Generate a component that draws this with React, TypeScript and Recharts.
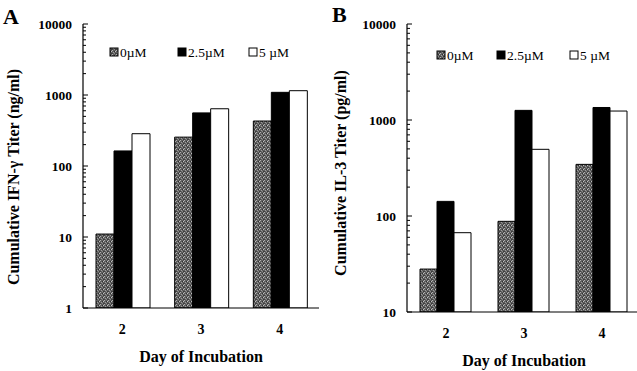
import { BarChart, Bar, XAxis, YAxis, Legend } from "recharts";

const days = ["2", "3", "4"];
const doses = ["0\u00b5M", "2.5\u00b5M", "5 \u00b5M"];

// panel A, IFN-gamma (ng/ml)
const ifn0 = [11, 255, 430];
const ifn25 = [163, 560, 1090];
const ifn5 = [285, 640, 1150];

// panel B, IL-3 (pg/ml)
const il0 = [28, 88, 345];
const il25 = [142, 1260, 1350];
const il5 = [67, 495, 1240];

const decadesA = [1, 10, 100, 1000, 10000];
const decadesB = [10, 100, 1000, 10000];

const SERIF = "'Liberation Serif', 'Times New Roman', serif";

function withMinors(decades: number[]) {
  const out: number[] = [];
  decades.forEach((d, i) => {
    out.push(d);
    if (i < decades.length - 1) for (let m = 2; m <= 9; m++) out.push(d * m);
  });
  return out;
}

function LogTick(props: any) {
  const { x, y, payload, gap, decades } = props;
  const v = payload.value;
  const major = decades.includes(v);
  const ax = x + gap;
  return (
    <g>
      <line x1={ax} x2={ax + (major ? 5 : 3)} y1={y} y2={y} stroke="#000" strokeWidth={1} />
      {major && (
        <text x={x} y={y} dy={4.5} textAnchor="end" fontFamily={SERIF} fontWeight="bold" fontSize={13.5} fill="#000">
          {v}
        </text>
      )}
    </g>
  );
}

function LegendBox({ xs, patId }: { xs: number[]; patId: string }) {
  const fills = [`url(#${patId})`, "#000", "#fff"];
  return (
    <svg width={330} height={20} style={{ display: "block" }}>
      {doses.map((d, i) => (
        <g key={d}>
          <rect x={xs[i]} y={6} width={8} height={8} fill={fills[i]} stroke="#000" strokeWidth={1} />
          <text x={xs[i] + 10} y={14.5} fontFamily={SERIF} fontSize={13.5} fill="#000">
            {d}
          </text>
        </g>
      ))}
    </svg>
  );
}

function Panel(props: {
  s0: number[];
  s25: number[];
  s5: number[];
  decades: number[];
  yLabel: string;
  patId: string;
  axisW: number;
  right: number;
  xAxisH: number;
  yLabelX: number;
  yLabelDy: number;
  xLabelY: number;
  legendXs: number[];
  legendTop: number;
}) {
  const data = days.map((d, i) => ({ day: d, c0: props.s0[i], c25: props.s25[i], c5: props.s5[i] }));
  const lo = props.decades[0];
  const hi = props.decades[props.decades.length - 1];
  return (
    <BarChart
      width={330}
      height={371}
      data={data}
      margin={{ top: 24, right: props.right, left: 0, bottom: 0 }}
      barCategoryGap={13}
      barGap={0}
    >
      <defs>
        <pattern id={props.patId} width={4} height={4} patternUnits="userSpaceOnUse">
          <rect width={4} height={4} fill="#5e5e5e" />
          <rect x={0} y={0} width={1} height={1} fill="#b0b0b0" />
          <rect x={2} y={1} width={1} height={1} fill="#2e2e2e" />
          <rect x={1} y={2} width={1} height={1} fill="#9c9c9c" />
          <rect x={3} y={3} width={1} height={1} fill="#3a3a3a" />
          <rect x={3} y={1} width={1} height={1} fill="#c0c0c0" />
          <rect x={0} y={3} width={1} height={1} fill="#444" />
          <rect x={2} y={3} width={1} height={1} fill="#8a8a8a" />
        </pattern>
      </defs>
      <XAxis
        dataKey="day"
        height={props.xAxisH}
        tickLine={false}
        tickSize={0}
        tickMargin={16}
        axisLine={{ stroke: "#000", strokeWidth: 1.2 }}
        tick={{ fontFamily: SERIF, fontWeight: "bold", fontSize: 14, fill: "#000" }}
        label={(p: any) => {
          const vb = p.viewBox;
          return (
            <text x={vb.x + vb.width / 2} y={vb.y + props.xLabelY} textAnchor="middle" fontFamily={SERIF} fontWeight="bold" fontSize={16} fill="#000">
              Day of Incubation
            </text>
          );
        }}
      />
      <XAxis xAxisId="top" dataKey="day" orientation="top" height={0} tick={false} tickLine={false} axisLine={{ stroke: "#222" }} />
      <YAxis
        scale="log"
        domain={[lo, hi]}
        allowDataOverflow
        ticks={withMinors(props.decades)}
        interval={0}
        width={props.axisW}
        tickLine={false}
        tickSize={0}
        tickMargin={11}
        axisLine={{ stroke: "#000", strokeWidth: 1.2 }}
        tick={<LogTick gap={11} decades={props.decades} />}
        label={(p: any) => {
          const vb = p.viewBox;
          const cx = props.yLabelX;
          const cy = vb.y + vb.height / 2 + props.yLabelDy;
          return (
            <text
              x={cx}
              y={cy}
              transform={`rotate(-90 ${cx} ${cy})`}
              textAnchor="middle"
              dominantBaseline="central"
              fontFamily={SERIF}
              fontWeight="bold"
              fontSize={16}
              fill="#000"
            >
              {props.yLabel}
            </text>
          );
        }}
      />
      <YAxis yAxisId="right" orientation="right" width={0} tick={false} tickLine={false} axisLine={{ stroke: "#222" }} />
      <Legend
        layout="horizontal"
        verticalAlign="middle"
        align="center"
        wrapperStyle={{ top: props.legendTop, left: 0, width: 330, height: 20 }}
        content={() => <LegendBox xs={props.legendXs} patId={props.patId} />}
      />
      <Bar dataKey="c0" name={doses[0]} fill={`url(#${props.patId})`} stroke="#000" strokeWidth={1} isAnimationActive={false} />
      <Bar dataKey="c25" name={doses[1]} fill="#000" stroke="#000" strokeWidth={1} isAnimationActive={false} />
      <Bar dataKey="c5" name={doses[2]} fill="#fff" stroke="#000" strokeWidth={1} isAnimationActive={false} />
    </BarChart>
  );
}

export default function App() {
  return (
    <div style={{ position: "absolute", left: 0, top: 0, width: 637, height: 371, overflow: "hidden", background: "#fff" }}>
      <div style={{ position: "absolute", left: 0, top: 0 }}>
        <Panel
          s0={ifn0}
          s25={ifn25}
          s5={ifn5}
          decades={decadesA}
          yLabel={"Cumulative IFN-\u03b3 Titer (ng/ml)"}
          patId="speckA"
          axisW={83}
          right={11}
          xAxisH={63}
          yLabelX={13}
          yLabelDy={11}
          xLabelY={54}
          legendXs={[110, 178, 249]}
          legendTop={42}
        />
      </div>
      <div style={{ position: "absolute", left: 320, top: 0 }}>
        <Panel
          s0={il0}
          s25={il25}
          s5={il5}
          decades={decadesB}
          yLabel="Cumulative IL-3 Titer (pg/ml)"
          patId="speckB"
          axisW={87}
          right={9}
          xAxisH={59}
          yLabelX={20}
          yLabelDy={5}
          xLabelY={54}
          legendXs={[117, 177, 250]}
          legendTop={45}
        />
      </div>
      <div style={{ position: "absolute", left: 3, top: 6, fontFamily: SERIF, fontWeight: "bold", fontSize: 22, lineHeight: "22px" }}>A</div>
      <div style={{ position: "absolute", left: 332, top: 4, fontFamily: SERIF, fontWeight: "bold", fontSize: 22, lineHeight: "22px" }}>B</div>
    </div>
  );
}
